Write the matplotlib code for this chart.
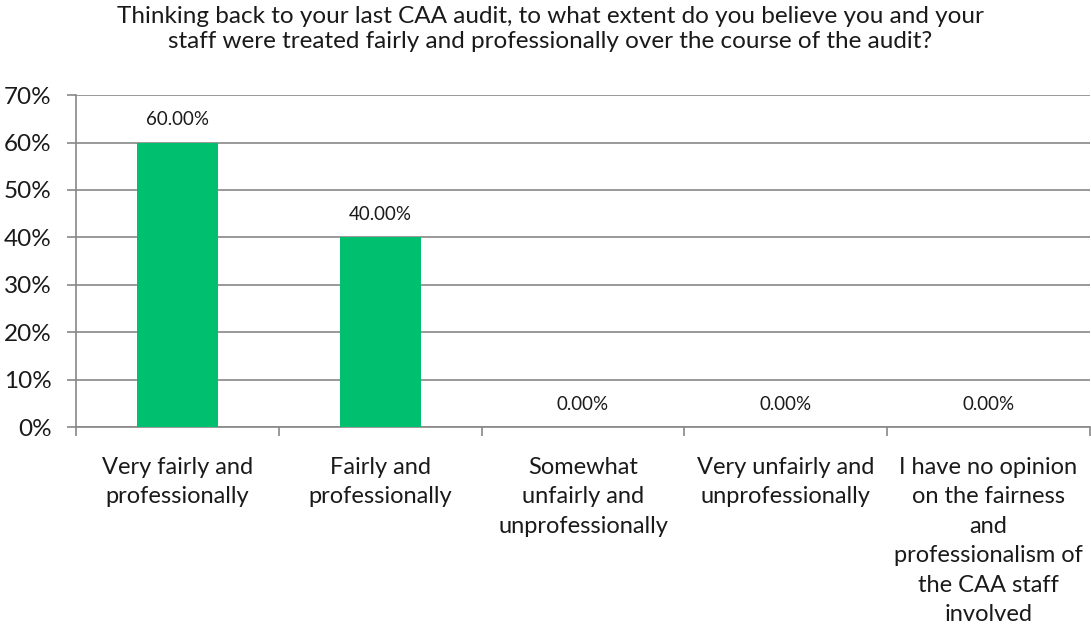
import numpy as np
import matplotlib.pyplot as plt

categories = ['Very fairly and\nprofessionally',
              'Fairly and\nprofessionally',
              'Somewhat\nunfairly and\nunprofessionally',
              'Very unfairly and\nunprofessionally',
              'I have no opinion\non the fairness\nand\nprofessionalism of\nthe CAA staff\ninvolved']
values = [60.0, 40.0, 0.0, 0.0, 0.0]
title = ('Thinking back to your last CAA audit, to what extent do you believe you and your\n'
         'staff were treated fairly and professionally over the course of the audit?')

plt.rcParams['font.family'] = ['Lato', 'DejaVu Sans']
grid_col = '#878787'
txt_col = '#1a1a1a'

fig = plt.figure(figsize=(10.91, 6.36), dpi=100)
ax = fig.add_axes([0.0697, 0.328, 0.9293, 0.5226])

x = np.arange(len(categories))
ax.bar(x, values, width=0.4, color='#00BF6F', zorder=3)
for xi, v in zip(x, values):
    ax.annotate('%.2f%%' % v, (xi, v), xytext=(0, 16.5), textcoords='offset points',
                ha='center', va='center', fontsize=13.5, color=txt_col)

ax.set_xlim(-0.5, len(categories) - 0.5)
ax.set_ylim(0, 70)
ax.set_yticks(range(0, 71, 10))
ax.set_yticklabels(['%d%%' % t for t in range(0, 71, 10)], fontsize=17.5, color=txt_col)
ax.yaxis.grid(True, color=grid_col, linewidth=1.2, zorder=0)
ax.tick_params(axis='y', length=6.5, width=1.2, color=grid_col, pad=11)

ax.set_xticks(np.arange(-0.5, len(categories), 1.0))
ax.set_xticklabels([])
ax.tick_params(axis='x', length=6.5, color=grid_col, width=1.2)
ax.set_xticks(x, minor=True)
ax.set_xticklabels(categories, minor=True, fontsize=17, linespacing=1.5, va='top', color=txt_col)
ax.tick_params(axis='x', which='minor', length=0, pad=21)

for s in ['top', 'right']:
    ax.spines[s].set_visible(False)
for s in ['left', 'bottom']:
    ax.spines[s].set_color(grid_col)
    ax.spines[s].set_linewidth(1.2)

fig.text(0.5046, 0.954, title, ha='center', va='center', fontsize=17.5,
         linespacing=1.25, color=txt_col)

fig.savefig('out.png', dpi=100)
